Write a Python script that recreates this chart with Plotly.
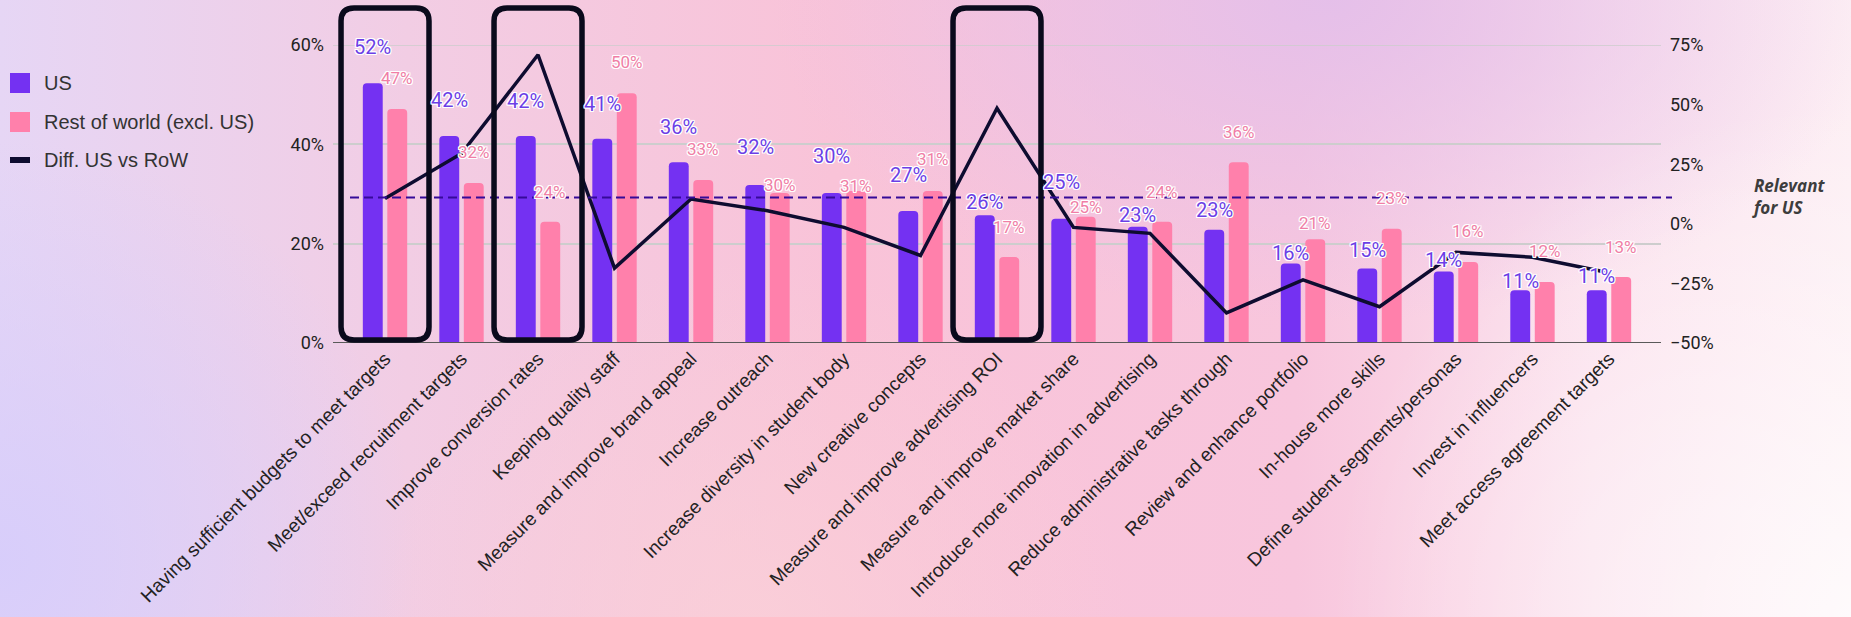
import base64
import plotly.graph_objects as go

# ---------------------------------------------------------------- data
categories = [
    "Having sufficient budgets to meet targets",
    "Meet/exceed recruitment targets",
    "Improve conversion rates",
    "Keeping quality staff",
    "Measure and improve brand appeal",
    "Increase outreach",
    "Increase diversity in student body",
    "New creative concepts",
    "Measure and improve advertising ROI",
    "Measure and improve market share",
    "Introduce more innovation in advertising",
    "Reduce administrative tasks through",
    "Review and enhance portfolio",
    "In-house more skills",
    "Define student segments/personas",
    "Invest in influencers",
    "Meet access agreement targets",
]
us_share = [52.3, 41.7, 41.7, 41.1, 36.4, 31.8, 30.2, 26.6, 25.7, 25.0, 23.4, 22.8, 16.0, 15.0, 14.4, 10.6, 10.6]
row_share = [47.1, 32.2, 24.4, 50.3, 32.8, 30.2, 30.6, 30.6, 17.3, 25.4, 24.4, 36.4, 20.9, 23.0, 16.3, 12.3, 13.3]
diff_us_row = [10.6, 29.5, 70.9, -18.6, 10.4, 5.5, -1.5, -13.3, 48.5, -1.5, -4.0, -37.4, -23.5, -34.8, -12.0, -14.0, -20.5]
relevant_threshold = 11
highlighted = [0, 2, 8]

# label lift above bar tops (px), tuned so labels don't collide
us_lift = [36, 36, 35, 35, 35, 38, 37, 36, 13, 37, 12, 20, 11, 19, 11, 9, 14]
row_lift = [31, 31, 30, 31, 31, 8, 5, 32, 30, 10, 30, 30, 16, 31, 31, 31, 30]

# ---------------------------------------------------------------- geometry
W, H = 1851, 617
M_L, M_R, M_T, M_B = 333, 190, 45, 274
PW, PH = W - M_L - M_R, H - M_T - M_B
X0, X1 = -0.68, 16.68
BAR_W = 0.26
US_OFF, ROW_OFF = -0.29, 0.03

US_COL = "#7431f2"
ROW_COL = "#ff80ab"
US_TXT = "#6c3fe6"
ROW_TXT = "#f07ea6"
LINE_COL = "#0e0c30"
OUTLINE = ("-1px -1px 0 #fff, 1px -1px 0 #fff, -1px 1px 0 #fff, 1px 1px 0 #fff,"
           " 0 -1px 0 #fff, 0 1px 0 #fff, -1px 0 0 #fff, 1px 0 0 #fff")


def px_x(px):
    return (px - M_L) / PW


def px_y(py):
    return (M_T + PH - py) / PH


def cat_x(v):
    return (v - X0) / (X1 - X0)


# ---------------------------------------------------------------- background
svg = f'''<svg xmlns="http://www.w3.org/2000/svg" width="{W}" height="{H}" viewBox="0 0 {W} {H}" preserveAspectRatio="none">
<defs>
<linearGradient id="base" x1="0" y1="0" x2="1" y2="0">
<stop offset="0" stop-color="#e6d6f5"/>
<stop offset="0.22" stop-color="#f2cde4"/>
<stop offset="0.45" stop-color="#f9c3d8"/>
<stop offset="0.7" stop-color="#f8c6dd"/>
<stop offset="0.86" stop-color="#fbe1ed"/>
<stop offset="1" stop-color="#fdeff4"/>
</linearGradient>
<radialGradient id="top" cx="1330" cy="0" r="430" gradientUnits="userSpaceOnUse" gradientTransform="translate(1330 0) scale(1.3 0.75) translate(-1330 0)">
<stop offset="0" stop-color="#e4bfea" stop-opacity="0.95"/>
<stop offset="1" stop-color="#e4bfea" stop-opacity="0"/>
</radialGradient>
<radialGradient id="left" cx="0" cy="560" r="420" gradientUnits="userSpaceOnUse">
<stop offset="0" stop-color="#d7cdfb" stop-opacity="0.95"/>
<stop offset="1" stop-color="#d7cdfb" stop-opacity="0"/>
</radialGradient>
<radialGradient id="bottom" cx="750" cy="640" r="380" gradientUnits="userSpaceOnUse">
<stop offset="0" stop-color="#fad0d8" stop-opacity="0.85"/>
<stop offset="1" stop-color="#fad0d8" stop-opacity="0"/>
</radialGradient>
<radialGradient id="corner" cx="1851" cy="617" r="520" gradientUnits="userSpaceOnUse">
<stop offset="0" stop-color="#ffffff" stop-opacity="0.7"/>
<stop offset="1" stop-color="#ffffff" stop-opacity="0"/>
</radialGradient>
</defs>
<rect width="{W}" height="{H}" fill="url(#base)"/>
<rect width="{W}" height="{H}" fill="url(#top)"/>
<rect width="{W}" height="{H}" fill="url(#left)"/>
<rect width="{W}" height="{H}" fill="url(#bottom)"/>
<rect width="{W}" height="{H}" fill="url(#corner)"/>
</svg>'''
bg_uri = "data:image/svg+xml;base64," + base64.b64encode(svg.encode()).decode()

# ---------------------------------------------------------------- traces
fig = go.Figure()
fig.add_trace(go.Bar(
    x=categories, y=us_share, name="US", marker_color=US_COL,
    width=BAR_W, offset=US_OFF, marker_line_width=0, showlegend=False,
))
fig.add_trace(go.Bar(
    x=categories, y=row_share, name="Rest of world (excl. US)", marker_color=ROW_COL,
    width=BAR_W, offset=ROW_OFF, marker_line_width=0, showlegend=False,
))
fig.add_trace(go.Scatter(
    x=categories, y=diff_us_row, name="Diff. US vs RoW", yaxis="y2",
    mode="lines", line=dict(color=LINE_COL, width=3.5), showlegend=False,
))

annotations = []
for i in range(len(categories)):
    annotations.append(dict(
        x=i + US_OFF + BAR_W / 2, y=us_share[i], xref="x", yref="y",
        text=f"{us_share[i]:.0f}%", showarrow=False, yshift=us_lift[i],
        font=dict(family="Roboto", size=20, color=US_TXT, shadow=OUTLINE),
    ))
    annotations.append(dict(
        x=i + ROW_OFF + BAR_W / 2, y=row_share[i], xref="x", yref="y",
        text=f"{row_share[i]:.0f}%", showarrow=False, yshift=row_lift[i],
        font=dict(family="Roboto", size=17, color=ROW_TXT, shadow=OUTLINE),
    ))

# legend drawn by hand
shapes = []
legend_items = [("US", US_COL, 73, 93), ("Rest of world (excl. US)", ROW_COL, 112, 132),
                ("Diff. US vs RoW", LINE_COL, 157, 163)]
for label, col, top, bot in legend_items:
    shapes.append(dict(type="rect", xref="paper", yref="paper",
                       x0=px_x(10), x1=px_x(30), y0=px_y(bot), y1=px_y(top),
                       fillcolor=col, line=dict(width=0), layer="above"))
    annotations.append(dict(xref="paper", yref="paper", x=px_x(42), y=px_y((top + bot) / 2),
                            xanchor="left", yanchor="middle", showarrow=False, text=label,
                            font=dict(family="Liberation Sans, Arial", size=20, color="#333333")))

annotations.append(dict(
    xref="paper", yref="paper", x=px_x(1750), y=px_y(196), xanchor="left", yanchor="middle",
    showarrow=False, align="left", text="<b><i>Relevant</i></b><br><b><i>for US</i></b>",
    font=dict(family="Open Sans", size=17, color="#3d3d3d"),
))

# top gridline at the axis maximum
shapes.append(dict(type="line", xref="paper", yref="y", x0=0, x1=1, y0=60, y1=60,
                   line=dict(color="#cdcdcd", width=1.5), layer="below"))
# baseline
shapes.append(dict(type="line", xref="paper", yref="y", x0=0, x1=1, y0=0, y1=0,
                   line=dict(color="#5a5a5a", width=2), layer="above"))
# relevance threshold
shapes.append(dict(type="line", xref="paper", yref="y2", x0=px_x(350), x1=px_x(1672),
                   y0=relevant_threshold, y1=relevant_threshold,
                   line=dict(color="#350b98", width=2, dash="9px,5px"), layer="above"))

# rounded frames around highlighted categories
r_px = 13
for i in highlighted:
    xl, xr = cat_x(i - 0.575), cat_x(i + 0.575)
    yt, yb = px_y(8), px_y(340)
    rx, ry = r_px / PW, r_px / PH
    path = (f"M {xl + rx},{yt} L {xr - rx},{yt} Q {xr},{yt} {xr},{yt - ry} "
            f"L {xr},{yb + ry} Q {xr},{yb} {xr - rx},{yb} "
            f"L {xl + rx},{yb} Q {xl},{yb} {xl},{yb + ry} "
            f"L {xl},{yt - ry} Q {xl},{yt} {xl + rx},{yt} Z")
    shapes.append(dict(type="path", xref="paper", yref="paper", path=path,
                       line=dict(color="#0a0a1c", width=5.5), layer="above"))

fig.update_layout(
    width=W, height=H,
    margin=dict(l=M_L, r=M_R, t=M_T, b=M_B, pad=0),
    paper_bgcolor="rgba(0,0,0,0)", plot_bgcolor="rgba(0,0,0,0)",
    barmode="overlay", barcornerradius=4,
    showlegend=False,
    xaxis=dict(type="category", range=[X0, X1], tickangle=-45, showgrid=False,
               showline=False, zeroline=False, ticks="",
               tickfont=dict(family="Liberation Sans, Arial", size=19, color="#222222")),
    yaxis=dict(range=[0, 60], dtick=20, ticksuffix="%", showgrid=True,
               gridcolor="#cdcdcd", gridwidth=1.5, zeroline=False, showline=False,
               ticks="", ticklabelstandoff=8,
               tickfont=dict(family="Roboto", size=18, color="#222222")),
    yaxis2=dict(range=[-50, 75], dtick=25, ticksuffix="%", overlaying="y", side="right",
                showgrid=False, zeroline=False, showline=False, ticks="",
                ticklabelstandoff=8,
                tickfont=dict(family="Roboto", size=18, color="#222222")),
    images=[dict(source=bg_uri, xref="paper", yref="paper",
                 x=-M_L / PW, y=1 + M_T / PH, sizex=W / PW, sizey=H / PH,
                 sizing="stretch", layer="below", xanchor="left", yanchor="top")],
    annotations=annotations,
    shapes=shapes,
)

fig.write_html("out.html")
